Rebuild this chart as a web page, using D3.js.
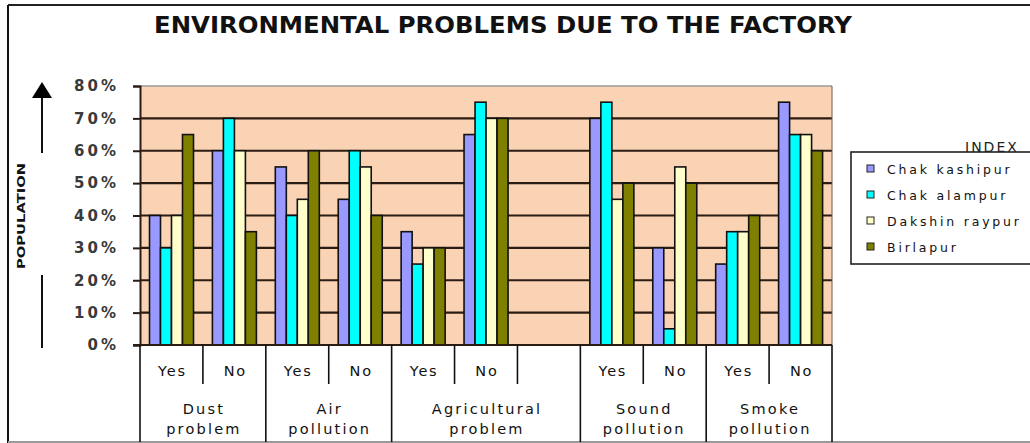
<!DOCTYPE html>
<html>
<head>
<meta charset="utf-8">
<title>Environmental problems</title>
<style>
  body { margin: 0; background: #fff; }
  text { font-family: "DejaVu Sans", sans-serif; }
</style>
</head>
<body>
<script src="https://cdnjs.cloudflare.com/ajax/libs/d3/7.8.5/d3.min.js"></script>
<script>
// slots along the x axis (the empty one is the gap after Agricultural problem)
var slots = ["Yes", "No", "Yes", "No", "Yes", "No", "", "Yes", "No", "Yes", "No"];
var groupNames = [["Dust", "problem"], ["Air", "pollution"], ["Agricultural", "problem"], ["Sound", "pollution"], ["Smoke", "pollution"]];
var groupSpans = [2, 2, 3, 2, 2];
var villages = ["Chak kashipur", "Chak alampur", "Dakshin raypur", "Birlapur"];
var colors = ["#9999FF", "#00FFFF", "#FFFFCC", "#808000"];
var chakKashipur  = [40, 60, 55, 45, 35, 65, null, 70, 30, 25, 75];
var chakAlampur   = [30, 70, 40, 60, 25, 75, null, 75,  5, 35, 65];
var dakshinRaypur = [40, 60, 45, 55, 30, 70, null, 45, 55, 35, 65];
var birlapur      = [65, 35, 60, 40, 30, 70, null, 50, 50, 40, 60];
var yTicks = [0, 10, 20, 30, 40, 50, 60, 70, 80];

var series = [chakKashipur, chakAlampur, dakshinRaypur, birlapur];

var w = 1030, h = 443;
var pLeft = 140, pRight = 832, pTop = 86, pBottom = 345;

var svg = d3.select("body").append("svg")
    .attr("width", w)
    .attr("height", h);

// frame
svg.append("line").attr("x1", 8).attr("x2", 8).attr("y1", 5).attr("y2", h)
    .attr("stroke", "#111").attr("stroke-width", 2);
svg.append("line").attr("x1", 8).attr("x2", w).attr("y1", 5).attr("y2", 5)
    .attr("stroke", "#222").attr("stroke-width", 2);
svg.append("line").attr("x1", 8).attr("x2", w).attr("y1", 442).attr("y2", 442)
    .attr("stroke", "#999").attr("stroke-width", 2);

svg.append("text")
    .attr("x", 503).attr("y", 33)
    .attr("text-anchor", "middle")
    .attr("font-family", "Liberation Sans, Arial, sans-serif")
    .attr("font-weight", "bold")
    .attr("font-size", 23)
    .attr("fill", "#111")
    .attr("textLength", 698)
    .attr("lengthAdjust", "spacingAndGlyphs")
    .text("ENVIRONMENTAL PROBLEMS DUE TO THE FACTORY");

var x = d3.scaleBand().domain(d3.range(slots.length)).range([pLeft, pRight]);
var xs = d3.scaleBand().domain(d3.range(villages.length)).range([9.5, 53.5]);
var y = d3.scaleLinear().domain([0, 80]).range([pBottom, pTop]);

// plot background
svg.append("rect")
    .attr("x", pLeft).attr("y", pTop)
    .attr("width", pRight - pLeft).attr("height", pBottom - pTop)
    .attr("fill", "#FAD3B5");

// gridlines
svg.append("g").selectAll("line")
    .data(yTicks.slice(1))
    .enter().append("line")
    .attr("x1", pLeft).attr("x2", pRight)
    .attr("y1", function(d) { return y(d); })
    .attr("y2", function(d) { return y(d); })
    .attr("stroke", function(d) { return d === 80 ? "#9a9a9a" : "#2b1d14"; })
    .attr("stroke-width", function(d) { return d === 80 ? 1.5 : 2.2; });
svg.append("line").attr("x1", pRight).attr("x2", pRight).attr("y1", pTop).attr("y2", pBottom)
    .attr("stroke", "#6b5a4d").attr("stroke-width", 1);

// bars
series.forEach(function(vals, si) {
    svg.append("g").selectAll("rect")
        .data(vals.map(function(v, i) { return {i: i, v: v}; }).filter(function(d) { return d.v !== null; }))
        .enter().append("rect")
        .attr("x", function(d) { return x(d.i) + xs(si); })
        .attr("width", xs.bandwidth())
        .attr("y", function(d) { return y(d.v); })
        .attr("height", function(d) { return y(0) - y(d.v); })
        .attr("fill", colors[si])
        .attr("stroke", "#111")
        .attr("stroke-width", 1.6);
});

// y axis
var yAxis = svg.append("g")
    .attr("transform", "translate(" + pLeft + ",0)")
    .call(d3.axisLeft(y).tickValues(yTicks).tickSize(7).tickPadding(14)
        .tickFormat(function(d) { return d + "%"; }));
yAxis.select(".domain").attr("stroke", "#2b1d14").attr("stroke-width", 2);
yAxis.selectAll(".tick line").attr("stroke", "#2b1d14").attr("stroke-width", 2);
yAxis.selectAll(".tick text")
    .attr("font-family", "DejaVu Sans, sans-serif")
    .attr("font-weight", "bold")
    .attr("font-size", 15)
    .attr("letter-spacing", 3)
    .attr("fill", "#3a3a3a");

// x axis lines
svg.append("line").attr("x1", pLeft - 7).attr("x2", pRight).attr("y1", pBottom).attr("y2", pBottom)
    .attr("stroke", "#2b1d14").attr("stroke-width", 2);

var bounds = [0];
groupSpans.forEach(function(s) { bounds.push(bounds[bounds.length - 1] + s); });

svg.append("g").selectAll("line")
    .data(bounds)
    .enter().append("line")
    .attr("x1", function(d) { return d < slots.length ? x(d) : pRight; })
    .attr("x2", function(d) { return d < slots.length ? x(d) : pRight; })
    .attr("y1", pBottom).attr("y2", 442)
    .attr("stroke", "#111").attr("stroke-width", 1.6);

var inner = d3.range(1, slots.length).filter(function(i) { return bounds.indexOf(i) < 0; });
svg.append("g").selectAll("line")
    .data(inner)
    .enter().append("line")
    .attr("x1", function(d) { return x(d); })
    .attr("x2", function(d) { return x(d); })
    .attr("y1", pBottom).attr("y2", 384)
    .attr("stroke", "#111").attr("stroke-width", 1.6);

svg.append("g").selectAll("text")
    .data(slots.map(function(s, i) { return {s: s, i: i}; }).filter(function(d) { return d.s !== ""; }))
    .enter().append("text")
    .attr("x", function(d) { return x(d.i) + x.bandwidth() / 2 + 1; })
    .attr("y", 376)
    .attr("text-anchor", "middle")
    .attr("font-size", 14.5)
    .attr("letter-spacing", 1.8)
    .attr("fill", "#111")
    .text(function(d) { return d.s; });

var groupText = svg.append("g").selectAll("text")
    .data(groupNames.map(function(g, k) {
        return {lines: g, a: bounds[k], b: bounds[k + 1]};
    }))
    .enter().append("text")
    .attr("text-anchor", "middle")
    .attr("font-size", 14.5)
    .attr("letter-spacing", 2.2)
    .attr("fill", "#111");
groupText.selectAll("tspan")
    .data(function(d) {
        var cx = (x(d.a) + (d.b < slots.length ? x(d.b) : pRight)) / 2 + 1;
        return d.lines.map(function(t, j) { return {t: t, cx: cx, j: j}; });
    })
    .enter().append("tspan")
    .attr("x", function(d) { return d.cx; })
    .attr("y", function(d) { return 414 + d.j * 20; })
    .text(function(d) { return d.t; });

// y axis title with arrow
svg.append("line").attr("x1", 42).attr("x2", 42).attr("y1", 96).attr("y2", 153)
    .attr("stroke", "#111").attr("stroke-width", 2);
svg.append("line").attr("x1", 42).attr("x2", 42).attr("y1", 275).attr("y2", 348)
    .attr("stroke", "#111").attr("stroke-width", 2);
svg.append("path").attr("d", "M42,82 L52,98 L32,98 Z").attr("fill", "#000");
svg.append("text")
    .attr("transform", "translate(25,216) rotate(-90)")
    .attr("text-anchor", "middle")
    .attr("font-family", "Liberation Sans, Arial, sans-serif")
    .attr("font-weight", "bold")
    .attr("font-size", 10)
    .attr("textLength", 106)
    .attr("lengthAdjust", "spacingAndGlyphs")
    .attr("fill", "#111")
    .text("POPULATION");

// legend
svg.append("rect")
    .attr("x", 851).attr("y", 152)
    .attr("width", 200).attr("height", 112)
    .attr("fill", "#fff")
    .attr("stroke", "#222").attr("stroke-width", 1.6);
svg.append("text")
    .attr("x", 965).attr("y", 152)
    .attr("font-size", 14)
    .attr("letter-spacing", 2)
    .attr("fill", "#222")
    .text("INDEX");
var leg = svg.append("g").selectAll("g")
    .data(villages)
    .enter().append("g")
    .attr("transform", function(d, i) { return "translate(867," + (169 + i * 26) + ")"; });
leg.append("rect")
    .attr("x", 0).attr("y", -4)
    .attr("width", 7).attr("height", 7)
    .attr("fill", function(d, i) { return colors[i]; })
    .attr("stroke", "#222").attr("stroke-width", 1);
leg.append("text")
    .attr("x", 20).attr("y", 4.5)
    .attr("font-size", 12.5)
    .attr("letter-spacing", 2.8)
    .attr("fill", "#111")
    .text(function(d) { return d; });
</script>
</body>
</html>
